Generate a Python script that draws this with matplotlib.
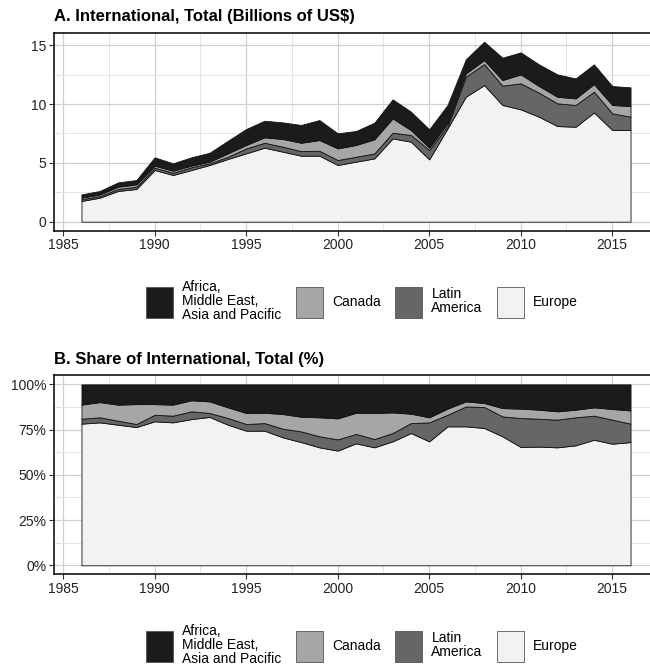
import matplotlib
matplotlib.use("Agg")
import matplotlib.pyplot as plt
from matplotlib.patches import Patch
from matplotlib.ticker import MultipleLocator, PercentFormatter

plt.rcParams['font.family'] = ['Liberation Sans', 'DejaVu Sans']

years = list(range(1986, 2017))

# Panel A: billions of US$ per region
europe = [1.76, 2.04, 2.61, 2.78, 4.39, 3.97, 4.39, 4.82, 5.33, 5.81, 6.29, 5.95, 5.61, 5.61, 4.82, 5.10,
          5.38, 7.08, 6.80, 5.30, 7.93, 10.62, 11.61, 9.92, 9.55, 8.92, 8.13, 8.07, 9.29, 7.79, 7.79]
latin = [0.14, 0.14, 0.17, 0.19, 0.20, 0.19, 0.23, 0.14, 0.19, 0.42, 0.42, 0.42, 0.39, 0.42, 0.42, 0.42,
         0.42, 0.48, 0.57, 0.79, 0.20, 1.70, 1.79, 1.64, 2.21, 2.04, 1.93, 1.85, 1.76, 1.42, 1.13]
canada = [0.14, 0.14, 0.19, 0.20, 0.17, 0.17, 0.14, 0.14, 0.29, 0.29, 0.46, 0.66, 0.71, 0.91, 0.99, 1.00,
          1.20, 1.22, 0.42, 0.20, 0.23, 0.28, 0.34, 0.48, 0.76, 0.57, 0.56, 0.56, 0.65, 0.71, 0.91]
africa = [0.28, 0.29, 0.37, 0.37, 0.71, 0.63, 0.71, 0.76, 1.07, 1.36, 1.41, 1.41, 1.51, 1.70, 1.28, 1.19,
          1.41, 1.62, 1.56, 1.56, 1.56, 1.20, 1.56, 1.90, 1.87, 1.84, 1.90, 1.70, 1.67, 1.61, 1.59]

# Panel B: share of international total (%)
europe_pct = [78.3, 79.0, 77.7, 76.4, 79.6, 79.0, 80.8, 82.0, 77.7, 74.4, 74.4, 70.7, 68.1, 65.2, 63.4, 67.4,
              65.2, 68.5, 73.1, 68.5, 76.8, 76.8, 75.9, 71.3, 65.4, 65.6, 65.2, 66.3, 69.4, 67.2, 68.1]
latin_pct = [2.7, 2.8, 2.2, 1.7, 3.6, 3.7, 4.3, 2.2, 3.7, 3.7, 4.2, 4.8, 5.9, 6.1, 6.2, 5.2,
             4.6, 4.6, 5.5, 10.5, 6.4, 11.0, 11.6, 11.0, 16.0, 15.4, 15.3, 15.5, 13.3, 13.3, 10.2]
canada_pct = [7.8, 8.4, 8.9, 11.0, 5.9, 6.1, 6.1, 6.4, 5.9, 6.1, 5.7, 8.1, 8.1, 10.5, 11.6, 11.7,
              14.4, 11.4, 5.2, 2.8, 3.4, 2.8, 2.2, 4.6, 5.2, 5.0, 4.6, 4.2, 4.6, 5.9, 7.3]
africa_pct = [11.2, 9.8, 11.2, 10.9, 10.9, 11.2, 8.8, 9.4, 12.7, 15.8, 15.7, 16.4, 17.9, 18.2, 18.8, 15.7,
              15.8, 15.5, 16.2, 18.2, 13.4, 9.4, 10.3, 13.1, 13.4, 14.0, 14.9, 14.0, 12.7, 13.6, 14.4]

labels = ['Europe', 'Latin\nAmerica', 'Canada', 'Africa,\nMiddle East,\nAsia and Pacific']
colors = ['#f2f2f2', '#666666', '#a6a6a6', '#1b1b1b']
legend_order = [3, 2, 1, 0]


def stacked(ax, layers):
    base = [0.0] * len(years)
    for vals, col in zip(layers, colors):
        top = [b + v for b, v in zip(base, vals)]
        ax.fill_between(years, base, top, facecolor=col, edgecolor='#111111', linewidth=0.6, zorder=3)
        base = top


def style(ax, title):
    ax.set_xlim(1984.5, 2017.5)
    ax.xaxis.set_major_locator(MultipleLocator(5))
    ax.xaxis.set_minor_locator(MultipleLocator(2.5))
    ax.grid(which='major', color='#d0d0d0', linewidth=0.9, zorder=0)
    ax.grid(which='minor', color='#e4e4e4', linewidth=0.7, zorder=0)
    ax.set_axisbelow(True)
    ax.tick_params(which='major', length=3.5, width=0.8, color='#333333', labelsize=10,
                   labelcolor='#222222', pad=2)
    ax.tick_params(which='minor', length=0)
    for side in ['top', 'left', 'bottom']:
        ax.spines[side].set_linewidth(1.1)
        ax.spines[side].set_color('black')
    ax.set_title(title, loc='left', fontsize=12, fontweight='bold', pad=8.5)
    handles = [Patch(facecolor=colors[i], edgecolor='#555555', linewidth=0.6) for i in legend_order]
    leg = ax.legend(handles, [labels[i] for i in legend_order], loc='center',
                    bbox_to_anchor=(0.51, -0.355), ncol=4, frameon=False, fontsize=10,
                    handlelength=1.95, handleheight=3.1, handletextpad=0.65, columnspacing=1.05)
    for t in leg.get_texts():
        t.set_linespacing(1.0)


fig = plt.figure(figsize=(6.5, 6.7), dpi=100)
ax1 = fig.add_axes([0.0831, 0.6557, 0.9292, 0.2955])
ax2 = fig.add_axes([0.0831, 0.1428, 0.9292, 0.2970])

stacked(ax1, [europe, latin, canada, africa])
ax1.set_ylim(-0.765, 16.065)
ax1.yaxis.set_major_locator(MultipleLocator(5))
ax1.yaxis.set_minor_locator(MultipleLocator(2.5))
style(ax1, 'A. International, Total (Billions of US$)')

stacked(ax2, [europe_pct, latin_pct, canada_pct, africa_pct])
ax2.set_ylim(-5, 105)
ax2.yaxis.set_major_locator(MultipleLocator(25))
ax2.yaxis.set_minor_locator(MultipleLocator(12.5))
ax2.yaxis.set_major_formatter(PercentFormatter(decimals=0))
style(ax2, 'B. Share of International, Total (%)')

fig.savefig('out.png', dpi=100)
